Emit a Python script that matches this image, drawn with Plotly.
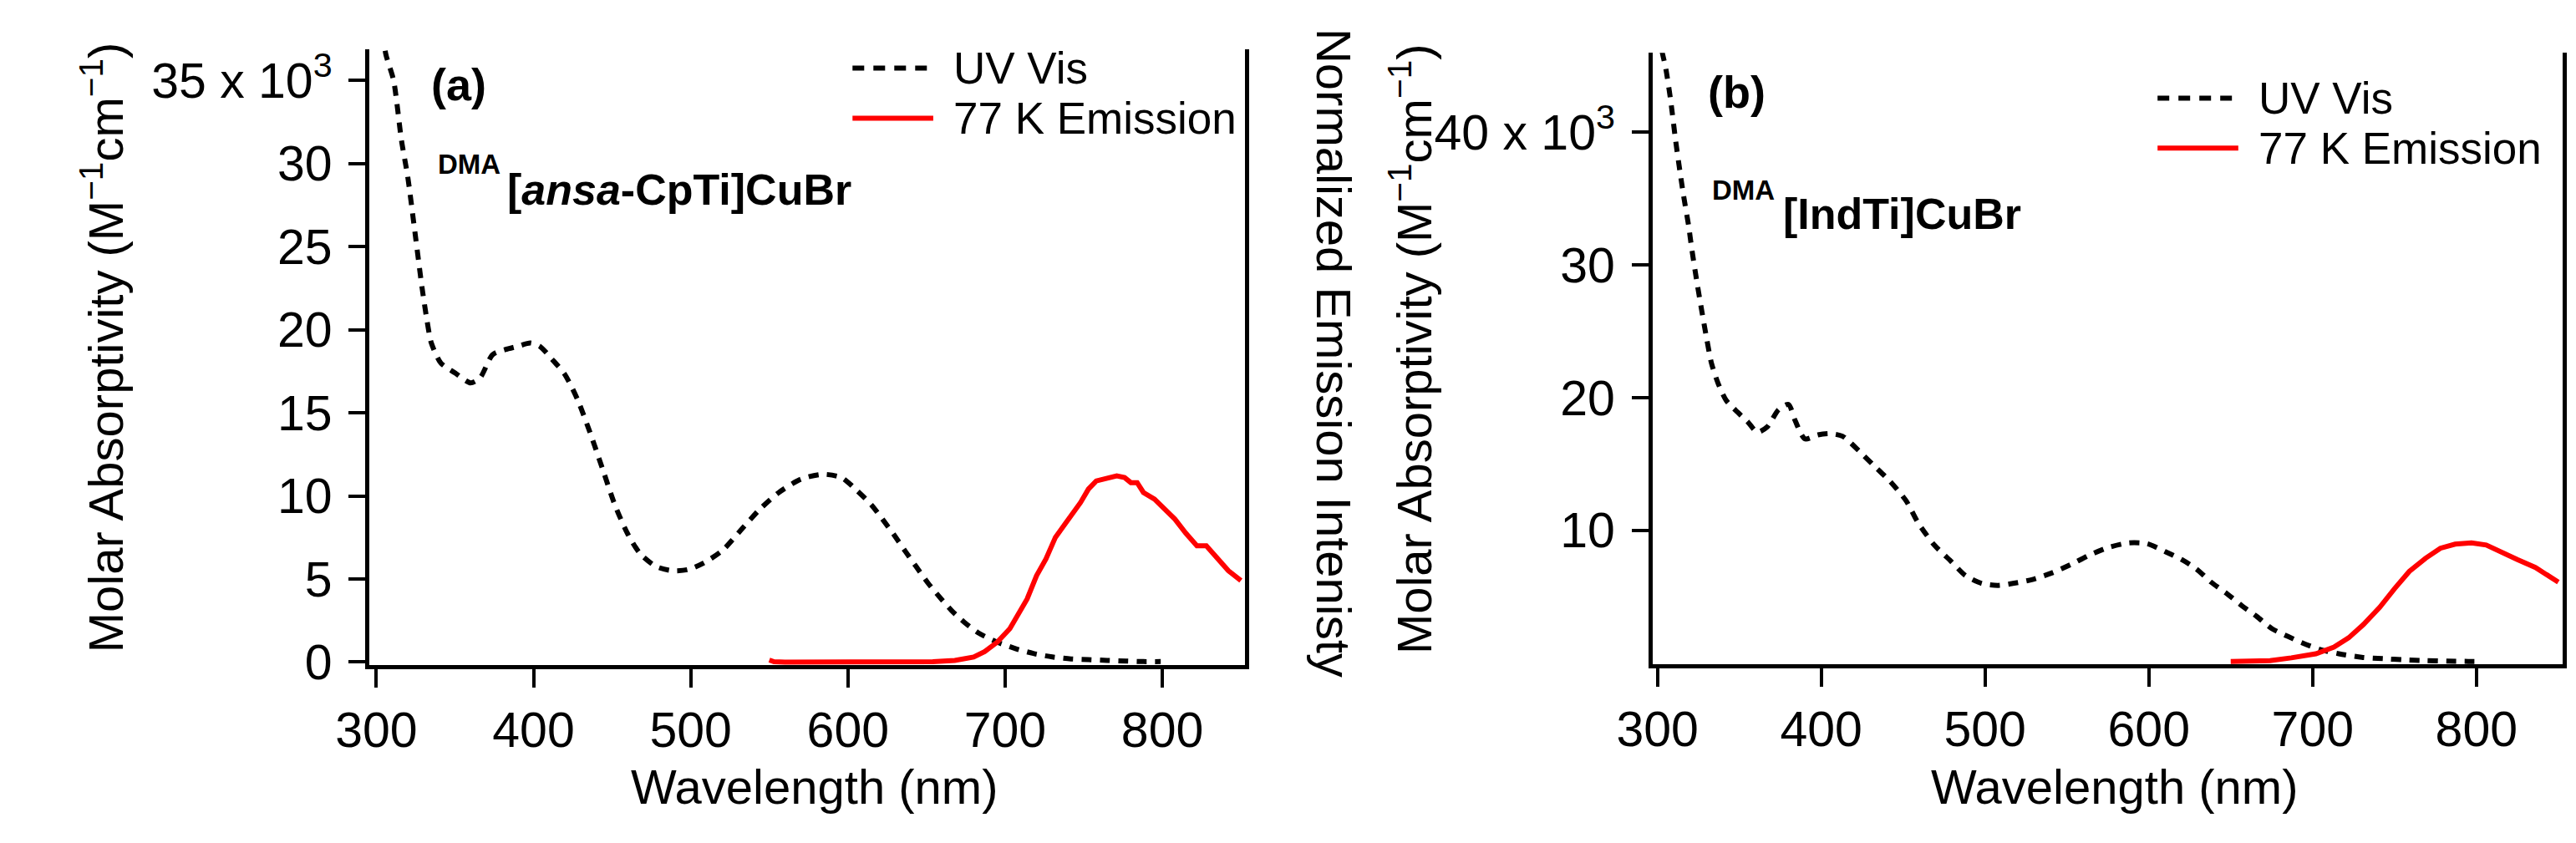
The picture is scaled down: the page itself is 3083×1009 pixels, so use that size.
import plotly.graph_objects as go

W, H = 3083, 1009
FONT = "Liberation Sans, Arial, Helvetica, sans-serif"

# ---- panel (a): DMA[ansa-CpTi]CuBr ----
uv_a_nm = [303, 306, 311, 316, 320, 324, 329, 332, 335, 341, 350, 360, 366, 374, 382,
           390, 398, 404, 412, 420, 428, 436, 444, 452, 460, 468, 478, 488, 498, 508,
           520, 532, 544, 556, 570, 584, 596, 606, 615, 622, 629, 637, 643, 651, 658,
           666, 674, 683, 695, 707, 718, 730, 742, 753, 765, 777, 788, 799]
uv_a_eps = [39.0, 36.6, 35.0, 31.4, 29.2, 26.3, 22.6, 20.7, 19.2, 18.0, 17.4, 16.8, 17.1,
            18.5, 18.8, 19.0, 19.2, 19.0, 18.2, 17.3, 15.8, 13.8, 11.6, 9.4, 7.7, 6.5,
            5.75, 5.5, 5.56, 5.95, 6.7, 7.95, 9.2, 10.2, 11.0, 11.3, 11.1, 10.3, 9.45,
            8.6, 7.7, 6.6, 5.8, 4.75, 3.95, 3.1, 2.4, 1.76, 1.2, 0.8, 0.52, 0.31, 0.19,
            0.15, 0.1, 0.06, 0.03, 0.03]
em_a_nm = [550, 553, 560, 580, 600, 620, 640, 654, 668, 680, 687, 695, 703, 710, 714,
           720, 726, 732, 740, 748, 753, 758, 765, 771, 776, 780, 784, 788, 795, 802,
           808, 815, 822, 828, 835, 842, 850]
em_a_int = [0.011, 0.002, 0.0, 0.0, 0.0, 0.0, 0.0, 0.002, 0.009, 0.027, 0.056, 0.107,
            0.179, 0.277, 0.339, 0.464, 0.554, 0.670, 0.759, 0.857, 0.929, 0.973, 0.988,
            1.0, 0.991, 0.964, 0.964, 0.911, 0.875, 0.813, 0.768, 0.692, 0.625, 0.625,
            0.554, 0.491, 0.438]

# ---- panel (b): DMA[IndTi]CuBr ----
uv_b_nm = [301, 303, 305, 308, 311, 313, 316, 319, 321, 324, 327, 330, 333, 337, 342,
           349, 355, 361, 367, 374, 380, 384, 390, 398, 405, 413, 423, 432, 442, 452,
           459, 469, 479, 488, 498, 508, 517, 529, 541, 552, 564, 575, 588, 599, 610,
           620, 629, 638, 648, 657, 666, 675, 685, 694, 705, 716, 730, 743, 756, 769,
           782, 795, 800]
uv_b_eps = [47.5, 46.0, 44.9, 42.5, 39.5, 37.7, 35.2, 33.0, 31.2, 28.8, 26.6, 24.5, 22.6,
            21.1, 19.8, 18.9, 18.2, 17.4, 17.8, 19.1, 19.5, 18.3, 16.9, 17.2, 17.3, 17.1,
            16.0, 14.9, 13.7, 12.2, 10.6, 8.9, 7.7, 6.6, 6.0, 5.85, 6.0, 6.3, 6.8, 7.4,
            8.15, 8.7, 9.06, 9.0, 8.4, 7.8, 7.1, 6.1, 5.2, 4.3, 3.5, 2.6, 2.0, 1.5, 1.0,
            0.7, 0.43, 0.33, 0.24, 0.18, 0.14, 0.12, 0.12]
em_b_nm = [650, 674, 687, 702, 713, 722, 731, 741, 750, 759, 769, 778, 787, 797, 806,
           815, 825, 836, 850]
em_b_int = [0.013, 0.020, 0.043, 0.077, 0.132, 0.210, 0.320, 0.464, 0.618, 0.762, 0.872,
            0.955, 0.989, 1.0, 0.982, 0.922, 0.861, 0.795, 0.673]

x_ticks = [300, 400, 500, 600, 700, 800]
y_ticks_a = [0, 5, 10, 15, 20, 25, 30, 35]
y_labels_a = ["0", "5", "10", "15", "20", "25", "30", "35 x 10<sup>3</sup>"]
y_ticks_b = [10, 20, 30, 40]
y_labels_b = ["10", "20", "30", "40 x 10<sup>3</sup>"]


def px_x(p):
    return p / W


def px_y(p):
    return 1 - p / H


fig = go.Figure()

uv_line = dict(color="black", width=6, dash="12px,10px", shape="spline", smoothing=0.7)
em_line = dict(color="#FF0000", width=6)

fig.add_trace(go.Scatter(x=uv_a_nm, y=uv_a_eps, mode="lines", line=uv_line,
                         name="UV Vis", xaxis="x", yaxis="y"))
fig.add_trace(go.Scatter(x=em_a_nm, y=em_a_int, mode="lines", line=em_line,
                         name="77 K Emission", xaxis="x", yaxis="y2"))
fig.add_trace(go.Scatter(x=uv_b_nm, y=uv_b_eps, mode="lines", line=uv_line,
                         name="UV Vis", xaxis="x2", yaxis="y3"))
fig.add_trace(go.Scatter(x=em_b_nm, y=em_b_int, mode="lines", line=em_line,
                         name="77 K Emission", xaxis="x2", yaxis="y4"))

tick_font = dict(family=FONT, size=59, color="black")
x_common = dict(tickvals=x_ticks, ticks="outside", ticklen=22, tickwidth=4,
                tickcolor="black", showline=True, linewidth=5, linecolor="black",
                showgrid=False, zeroline=False, tickfont=tick_font)
y_common = dict(ticks="outside", ticklen=20, tickwidth=4, tickcolor="black",
                showline=True, linewidth=5, linecolor="black", showgrid=False,
                zeroline=False, tickfont=tick_font, ticklabelstandoff=8)
y_right = dict(side="right", showline=True, linewidth=5, linecolor="black",
               showticklabels=False, ticks="", showgrid=False, zeroline=False)

fig.update_layout(
    width=W, height=H,
    margin=dict(l=0, r=0, t=0, b=0),
    paper_bgcolor="white", plot_bgcolor="white",
    showlegend=False,
    font=dict(family=FONT, color="black"),
    xaxis=dict(domain=[px_x(397), px_x(1459)], anchor="y", range=[295.8, 852.4], **x_common),
    yaxis=dict(domain=[px_y(812), px_y(50)], anchor="x", range=[-0.2, 36.85],
               tickvals=y_ticks_a, ticktext=y_labels_a, **y_common),
    yaxis2=dict(overlaying="y", anchor="x", range=[-0.018, 3.29], **y_right),
    xaxis2=dict(domain=[px_x(1954), px_x(3059)], anchor="y3", range=[297.0, 852.8], **x_common),
    yaxis3=dict(domain=[px_y(811), px_y(54)], anchor="x2", range=[-0.12, 46.0],
                tickvals=y_ticks_b, ticktext=y_labels_b, **y_common),
    yaxis4=dict(overlaying="y3", anchor="x2", range=[-0.0132, 5.077], **y_right),
)

# hand-drawn legends (long line samples as in the original figure)
shapes = []
for x0, y_uv, y_em in [(983, 73, 135), (2567, 110, 172)]:
    shapes.append(dict(type="line", xref="paper", yref="paper",
                       x0=px_x(x0), x1=px_x(x0 + 98), y0=px_y(y_uv), y1=px_y(y_uv),
                       line=dict(color="black", width=6, dash="14px,11px")))
    shapes.append(dict(type="line", xref="paper", yref="paper",
                       x0=px_x(x0), x1=px_x(x0 + 98), y0=px_y(y_em), y1=px_y(y_em),
                       line=dict(color="#FF0000", width=6)))
fig.update_layout(shapes=shapes)


def note(text, x, y, size, xanchor="center", angle=0):
    fig.add_annotation(text=text, xref="paper", yref="paper", x=px_x(x), y=px_y(y),
                       xanchor=xanchor, yanchor="middle", showarrow=False,
                       textangle=angle, font=dict(family=FONT, size=size, color="black"))


# legend texts
note("UV Vis", 1103, 73, 53, "left")
note("77 K Emission", 1103, 135, 53, "left")
note("UV Vis", 2687, 110, 53, "left")
note("77 K Emission", 2687, 172, 53, "left")

# panel labels and compound names
note("<b>(a)</b>", 505, 93, 54)
note("<b>DMA</b>", 478, 192, 33, "left")
note("<b>[<i>ansa</i>-CpTi]CuBr</b>", 562, 223, 52, "left")
note("<b>(b)</b>", 2056, 102, 54)
note("<b>DMA</b>", 2024, 224, 33, "left")
note("<b>[IndTi]CuBr</b>", 2110, 253, 52, "left")

# axis titles
note("Wavelength (nm)", 937, 962, 58)
note("Wavelength (nm)", 2515, 962, 58)
note("Molar Absorptivity (M<sup>−1</sup>cm<sup>−1</sup>)", 72, 418, 58, angle=-90)
note("Molar Absorptivity (M<sup>−1</sup>cm<sup>−1</sup>)", 1660, 420, 58, angle=-90)
note("Normalized Emission Intenisty", 1568, 425, 58, angle=90)

fig.write_html("out.html")
